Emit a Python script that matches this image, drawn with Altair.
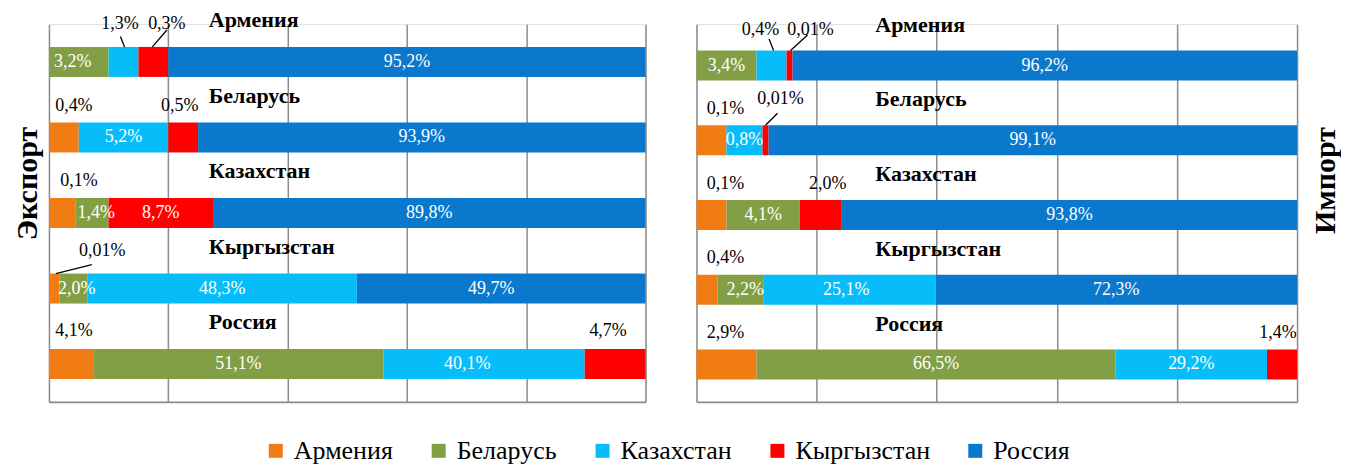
import altair as alt
import pandas as pd

# ---------------- data ----------------
countries = ["Армения", "Беларусь", "Казахстан", "Кыргызстан", "Россия"]
partners = ["Армения", "Беларусь", "Казахстан", "Кыргызстан", "Россия"]
colors = ["#F07C13", "#829F45", "#06BDF9", "#FE0000", "#0A78CD"]

# bar segment lengths as drawn (share of the axis, 0-100); order = partners
exp_armenia = [0, 10, 5, 5, 80]
exp_belarus = [5, 0, 15, 5, 75]
exp_kazakhstan = [4.5, 5.5, 0, 17.5, 72.5]
exp_kyrgyzstan = [1.8, 4.7, 45.1, 0, 48.4]
exp_russia = [7.4, 48.7, 33.7, 10.2, 0]

imp_armenia = [0, 10, 5, 1, 84]
imp_belarus = [5, 0, 6, 1, 88]
imp_kazakhstan = [5, 12.2, 0, 7, 75.8]
imp_kyrgyzstan = [3.5, 7.6, 28.7, 0, 60.2]
imp_russia = [10, 59.8, 25.2, 5, 0]

# data labels printed on the chart
exp_lbl_armenia = ["", "3,2%", "1,3%", "0,3%", "95,2%"]
exp_lbl_belarus = ["0,4%", "", "5,2%", "0,5%", "93,9%"]
exp_lbl_kazakhstan = ["0,1%", "1,4%", "", "8,7%", "89,8%"]
exp_lbl_kyrgyzstan = ["0,01%", "2,0%", "48,3%", "", "49,7%"]
exp_lbl_russia = ["4,1%", "51,1%", "40,1%", "4,7%", ""]

imp_lbl_armenia = ["", "3,4%", "0,4%", "0,01%", "96,2%"]
imp_lbl_belarus = ["0,1%", "", "0,8%", "0,01%", "99,1%"]
imp_lbl_kazakhstan = ["0,1%", "4,1%", "", "2,0%", "93,8%"]
imp_lbl_kyrgyzstan = ["0,4%", "2,2%", "25,1%", "", "72,3%"]
imp_lbl_russia = ["2,9%", "66,5%", "29,2%", "1,4%", ""]

# ---------------- label placement (styling) ----------------
OUTSIDE_DY = -32
nudge = {
    ("exp", "Армения", "Беларусь"): (-6, 0),
    ("exp", "Армения", "Казахстан"): (-3.5, -38),
    ("exp", "Армения", "Кыргызстан"): (13.5, -38),
    ("exp", "Беларусь", "Армения"): (10, -31),
    ("exp", "Беларусь", "Кыргызстан"): (-3.5, -31),
    ("exp", "Казахстан", "Армения"): (16.6, -32),
    ("exp", "Казахстан", "Беларусь"): (4, 0),
    ("exp", "Кыргызстан", "Армения"): (48, -38),
    ("exp", "Кыргызстан", "Беларусь"): (3, 0),
    ("exp", "Кыргызстан", "Россия"): (-10, 0),
    ("exp", "Россия", "Армения"): (3, -33),
    ("exp", "Россия", "Казахстан"): (-17, 0),
    ("exp", "Россия", "Кыргызстан"): (-7, -33),
    ("imp", "Армения", "Казахстан"): (-11, -36),
    ("imp", "Армения", "Кыргызстан"): (21, -36),
    ("imp", "Беларусь", "Армения"): (14, -31),
    ("imp", "Беларусь", "Кыргызстан"): (15, -41),
    ("imp", "Казахстан", "Армения"): (14, -31),
    ("imp", "Казахстан", "Кыргызстан"): (7, -31),
    ("imp", "Кыргызстан", "Армения"): (18.5, -32),
    ("imp", "Кыргызстан", "Беларусь"): (5, 0),
    ("imp", "Кыргызстан", "Казахстан"): (-3, 0),
    ("imp", "Россия", "Армения"): (-1, -32),
    ("imp", "Россия", "Кыргызстан"): (-4, -32),
}
outside = {
    ("exp", "Армения", "Казахстан"), ("exp", "Армения", "Кыргызстан"),
    ("exp", "Беларусь", "Армения"), ("exp", "Беларусь", "Кыргызстан"),
    ("exp", "Казахстан", "Армения"), ("exp", "Кыргызстан", "Армения"),
    ("exp", "Россия", "Армения"), ("exp", "Россия", "Кыргызстан"),
    ("imp", "Армения", "Казахстан"), ("imp", "Армения", "Кыргызстан"),
    ("imp", "Беларусь", "Армения"), ("imp", "Беларусь", "Кыргызстан"),
    ("imp", "Казахстан", "Армения"), ("imp", "Казахстан", "Кыргызстан"),
    ("imp", "Кыргызстан", "Армения"),
    ("imp", "Россия", "Армения"), ("imp", "Россия", "Кыргызстан"),
}
leaders = {
    ("exp", "Армения", "Казахстан"): (0.4, 12.5, 1),
    ("exp", "Армения", "Кыргызстан"): (0, 6, -1),
    ("exp", "Кыргызстан", "Армения"): (-10.5, 14, 1.5),
    ("imp", "Армения", "Казахстан"): (8.6, 9.5, 2),
    ("imp", "Армения", "Кыргызстан"): (-3, 5.5, 1),
    ("imp", "Беларусь", "Кыргызстан"): (-3, 14, 0),
}

FONT = "Liberation Serif"
GRID = "#8c8c8c"
BAR_HALF = 15  # px


def build(key, rows, labels, W, H, y0):
    px_x = W / 100.0
    px_y = H / (5 - y0)
    bars, tin, tout, lead = [], [], [], []
    for i, c in enumerate(countries):
        start = 0.0
        yc = i + 0.5
        for j, p in enumerate(partners):
            v = rows[i][j]
            if v <= 0:
                continue
            end = start + v
            mid = (start + end) / 2
            bars.append(dict(partner=p, x0=start, x1=end,
                             y0=yc - BAR_HALF / px_y, y1=yc + BAR_HALF / px_y))
            lab = labels[i][j]
            if lab:
                k = (key, c, p)
                is_out = k in outside
                dx, dy = nudge.get(k, (0, OUTSIDE_DY if is_out else 0))
                lx = mid + dx / px_x
                ly = yc + dy / px_y
                rec = dict(label=lab, lx=lx, ly=ly)
                (tout if is_out else tin).append(rec)
                if k in leaders:
                    tdx, tdy, bdx = leaders[k]
                    lead.append(dict(tx=lx + tdx / px_x, ty=ly + tdy / px_y,
                                     bx=mid + bdx / px_x, by=yc - BAR_HALF / px_y))
            start = end
    return (pd.DataFrame(bars), pd.DataFrame(tin), pd.DataFrame(tout),
            pd.DataFrame(lead))


color_scale = alt.Scale(domain=partners, range=colors)
legend = alt.Legend(orient="none", legendX=214, legendY=414, direction="horizontal",
                    title=None, symbolType="square", symbolSize=196,
                    symbolStrokeWidth=0, labelFont=FONT, labelFontSize=26,
                    labelColor="black", labelOffset=5, columnPadding=32,
                    labelLimit=300)


def panel(key, rows, labels, W, H, y0, title, orient, tx, ty, cat_x, cat_dy):
    bars, tin, tout, lead = build(key, rows, labels, W, H, y0)
    px_y = H / (5 - y0)
    cats = pd.DataFrame(dict(name=countries,
                             cy=[i + 0.5 + cat_dy / px_y for i in range(5)]))
    xs = alt.Scale(domain=[0, 100], nice=False, zero=True)
    ys = alt.Scale(domain=[y0, 5], reverse=True, nice=False, zero=False)
    xa = alt.Axis(values=[0, 20, 40, 60, 80, 100], grid=True, gridColor=GRID,
                  gridWidth=1.5, ticks=False, labels=False, domain=True,
                  domainColor=GRID, domainWidth=2, title=None)
    ya = alt.Axis(orient=orient, labels=False, ticks=False, domain=False,
                  grid=False, title=title, titleFont=FONT, titleFontSize=30,
                  titleFontWeight="bold", titleColor="black", titleAngle=270,
                  titleX=tx, titleY=ty, titleAlign="center",
                  titleBaseline="middle")

    rect = alt.Chart(bars).mark_rect().encode(
        x=alt.X("x0:Q", scale=xs, axis=xa), x2="x1:Q",
        y=alt.Y("y0:Q", scale=ys, axis=ya), y2="y1:Q",
        color=alt.Color("partner:N", scale=color_scale, legend=legend,
                        sort=partners),
    )
    t_in = alt.Chart(tin).mark_text(font=FONT, fontSize=18, color="white",
                                    baseline="middle").encode(
        x=alt.X("lx:Q", scale=xs, axis=xa), y=alt.Y("ly:Q", scale=ys, axis=ya),
        text="label:N")
    t_out = alt.Chart(tout).mark_text(font=FONT, fontSize=18, color="black",
                                      baseline="middle").encode(
        x=alt.X("lx:Q", scale=xs, axis=xa), y=alt.Y("ly:Q", scale=ys, axis=ya),
        text="label:N")
    rules = alt.Chart(lead).mark_rule(color="black", strokeWidth=1.3).encode(
        x=alt.X("tx:Q", scale=xs, axis=xa), x2="bx:Q",
        y=alt.Y("ty:Q", scale=ys, axis=ya), y2="by:Q")
    cat = alt.Chart(cats).mark_text(font=FONT, fontSize=22, fontWeight="bold",
                                    color="black", align="left",
                                    baseline="middle").encode(
        x=alt.value(cat_x), y=alt.Y("cy:Q", scale=ys, axis=ya), text="name:N")
    return alt.layer(rect, t_in, t_out, rules, cat).properties(width=W, height=H)


exp_rows = [exp_armenia, exp_belarus, exp_kazakhstan, exp_kyrgyzstan, exp_russia]
exp_lbls = [exp_lbl_armenia, exp_lbl_belarus, exp_lbl_kazakhstan,
            exp_lbl_kyrgyzstan, exp_lbl_russia]
imp_rows = [imp_armenia, imp_belarus, imp_kazakhstan, imp_kyrgyzstan, imp_russia]
imp_lbls = [imp_lbl_armenia, imp_lbl_belarus, imp_lbl_kazakhstan,
            imp_lbl_kyrgyzstan, imp_lbl_russia]

left = panel("exp", exp_rows, exp_lbls, 597, 378, 0.0, "Экспорт", "left",
             -21, 159, 160, -42)
right = panel("imp", imp_rows, imp_lbls, 601, 378, -4 / 74.8, "Импорт", "right",
              28, 156, 179, -41)

chart = alt.hconcat(left, right, spacing=51, bounds="flush").properties(
    padding={"left": 4, "top": 0, "right": 0, "bottom": 0}
).configure_view(stroke=None).configure(font=FONT)

chart.save("out.html", embed_options={"renderer": "svg", "actions": False})
